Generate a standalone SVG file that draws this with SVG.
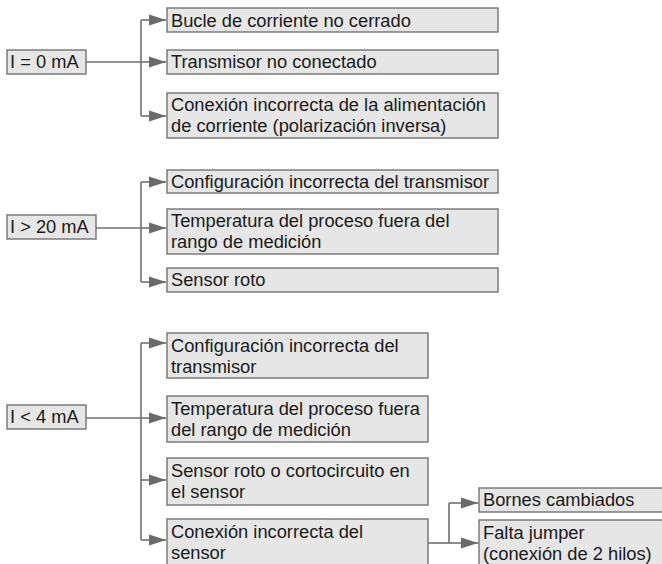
<svg xmlns="http://www.w3.org/2000/svg" width="662" height="564" viewBox="0 0 662 564">
<style>
.box{fill:#e6e6e6;stroke:#737373;stroke-width:1.4}
.t{font-family:"Liberation Sans",Arial,sans-serif;font-size:18.3px;fill:#1a1a1a}
.c{fill:none;stroke:#707070;stroke-width:1.6}
</style>
<defs>
<marker id="ah" markerUnits="userSpaceOnUse" markerWidth="18" markerHeight="12" refX="17" refY="6" orient="auto">
<path d="M0,0.5 L17,6 L0,11.5 Z" fill="#6a6a6a"/>
</marker>
</defs>
<rect width="662" height="564" fill="#fff"/>
<g id="connectors">
<path class="c" d="M86,62 H141"/>
<path class="c" d="M141,20 V116"/>
<path class="c" d="M141,20 H166" marker-end="url(#ah)"/>
<path class="c" d="M141,62 H166" marker-end="url(#ah)"/>
<path class="c" d="M141,116 H166" marker-end="url(#ah)"/>
<path class="c" d="M96,228 H141"/>
<path class="c" d="M141,182 V282"/>
<path class="c" d="M141,182 H166" marker-end="url(#ah)"/>
<path class="c" d="M141,228 H166" marker-end="url(#ah)"/>
<path class="c" d="M141,282 H166" marker-end="url(#ah)"/>
<path class="c" d="M86,418 H141"/>
<path class="c" d="M141,343 V540"/>
<path class="c" d="M141,343 H166" marker-end="url(#ah)"/>
<path class="c" d="M141,418 H166" marker-end="url(#ah)"/>
<path class="c" d="M141,480 H166" marker-end="url(#ah)"/>
<path class="c" d="M141,540 H166" marker-end="url(#ah)"/>
<path class="c" d="M428,543 H449"/>
<path class="c" d="M449,503 V543"/>
<path class="c" d="M449,503 H478" marker-end="url(#ah)"/>
<path class="c" d="M449,543 H478" marker-end="url(#ah)"/>
</g>
<g id="i0"><rect class="box" x="7" y="50" width="79" height="24"/><text class="t" x="10" y="68">I = 0 mA</text></g>
<g id="a1"><rect class="box" x="167" y="8" width="331" height="24"/><text class="t" x="171" y="27">Bucle de corriente no cerrado</text></g>
<g id="a2"><rect class="box" x="167" y="50" width="331" height="24"/><text class="t" x="171" y="68">Transmisor no conectado</text></g>
<g id="a3"><rect class="box" x="167" y="93" width="331" height="45"/><text class="t" x="171" y="111">Conexión incorrecta de la alimentación</text><text class="t" x="171" y="132">de corriente (polarización inversa)</text></g>
<g id="i20"><rect class="box" x="7" y="215" width="89" height="24"/><text class="t" x="10" y="233">I &gt; 20 mA</text></g>
<g id="b1"><rect class="box" x="167" y="170" width="331" height="23"/><text class="t" x="171" y="188">Configuración incorrecta del transmisor</text></g>
<g id="b2"><rect class="box" x="167" y="209" width="331" height="45"/><text class="t" x="171" y="227">Temperatura del proceso fuera del</text><text class="t" x="171" y="248">rango de medición</text></g>
<g id="b3"><rect class="box" x="167" y="268" width="331" height="24"/><text class="t" x="171" y="286">Sensor roto</text></g>
<g id="i4"><rect class="box" x="7" y="405" width="79" height="24"/><text class="t" x="10" y="423">I &lt; 4 mA</text></g>
<g id="c1"><rect class="box" x="167" y="333" width="261" height="45"/><text class="t" x="171" y="352">Configuración incorrecta del</text><text class="t" x="171" y="373">transmisor</text></g>
<g id="c2"><rect class="box" x="167" y="396" width="261" height="46"/><text class="t" x="171" y="415">Temperatura del proceso fuera</text><text class="t" x="171" y="436">del rango de medición</text></g>
<g id="c3"><rect class="box" x="167" y="458" width="261" height="47"/><text class="t" x="171" y="477">Sensor roto o cortocircuito en</text><text class="t" x="171" y="498">el sensor</text></g>
<g id="c4"><rect class="box" x="167" y="519" width="261" height="50"/><text class="t" x="171" y="538">Conexión incorrecta del</text><text class="t" x="171" y="559">sensor</text></g>
<g id="d1"><rect class="box" x="479" y="488" width="190" height="24"/><text class="t" x="483" y="506">Bornes cambiados</text></g>
<g id="d2"><rect class="box" x="479" y="520" width="190" height="50"/><text class="t" x="483" y="539">Falta jumper</text><text class="t" x="483" y="560">(conexión de 2 hilos)</text></g>
</svg>
